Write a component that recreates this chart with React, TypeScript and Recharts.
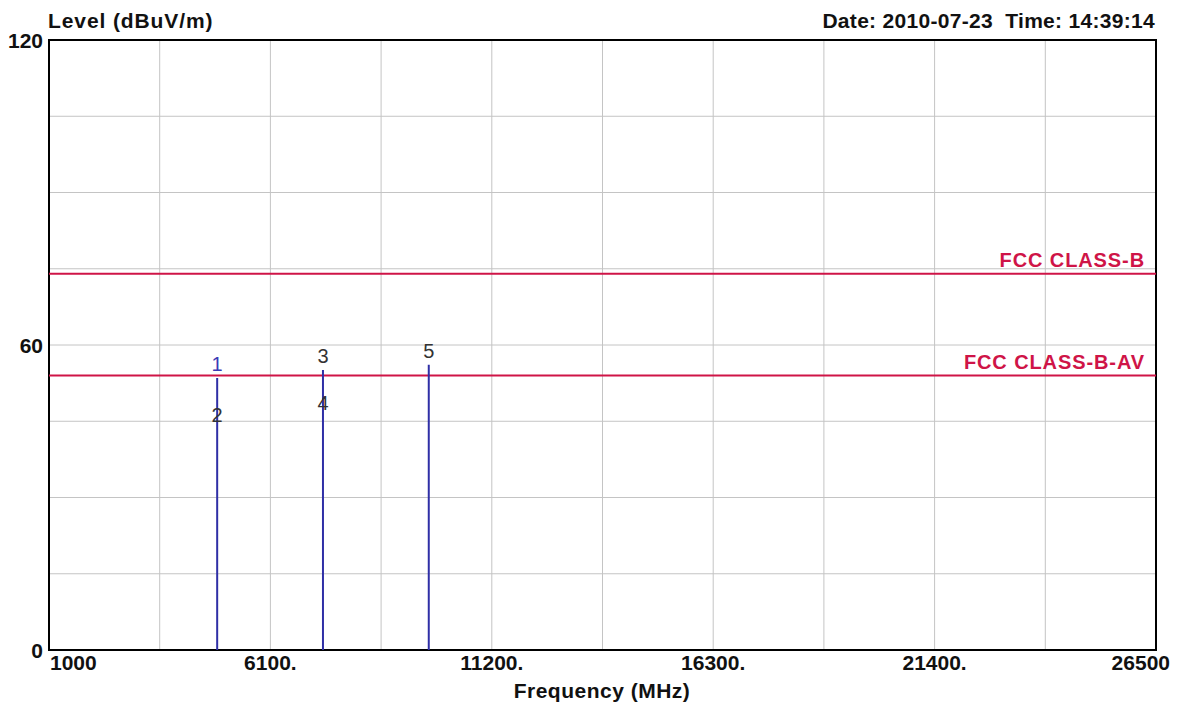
import React from 'react';
import {
  ComposedChart,
  Line,
  Scatter,
  XAxis,
  YAxis,
  CartesianGrid,
  ReferenceLine,
  ReferenceArea,
} from 'recharts';

// harmonic frequencies (MHz) and measured peak levels (dBuV/m)
const spikeFreqs = [4874, 7311, 9748];
const spikeLevels = [53.5, 55.1, 56.1];

// numbered markers: odd = peak, even = average
const markerIds = ['1', '2', '3', '4', '5'];
const markerFreqs = [4874, 4874, 7311, 7311, 9748];
const markerLevels = [53.5, 43.5, 55.1, 45.8, 56.1];

const limitNames = ['FCC CLASS-B', 'FCC CLASS-B-AV'];
const limitLevels = [74, 54];

const xTicks = [1000, 3550, 6100, 8650, 11200, 13750, 16300, 18850, 21400, 23950, 26500];
const xLabelTicks = [1000, 6100, 11200, 16300, 21400, 26500];
const yTicks = [0, 15, 30, 45, 60, 75, 90, 105, 120];
const yLabelTicks = [0, 60, 120];

const FONT = "'Liberation Sans', Arial, sans-serif";
const LIMIT_COLOR = '#cf1447';
const SPIKE_COLOR = '#2f2fa6';

const spikeSeries = spikeFreqs.map((f, i) => [
  { freq: f, level: 0 },
  { freq: f, level: spikeLevels[i] },
]);

const markers = markerIds.map((id, i) => ({
  id,
  freq: markerFreqs[i],
  level: markerLevels[i],
}));

const XTick = (props: any) => {
  const { x, y, payload } = props;
  const v = payload.value;
  if (!xLabelTicks.includes(v)) return <g />;
  const first = v === xLabelTicks[0];
  const last = v === xLabelTicks[xLabelTicks.length - 1];
  const text = first || last ? String(v) : `${v}.`;
  return (
    <text
      x={first ? x + 1 : last ? x + 14 : x}
      y={y + 20}
      textAnchor={first ? 'start' : last ? 'end' : 'middle'}
      fontFamily={FONT}
      fontWeight="bold"
      fontSize={21}
      fill="#111"
    >
      {text}
    </text>
  );
};

const YTick = (props: any) => {
  const { x, y, payload } = props;
  if (!yLabelTicks.includes(payload.value)) return <g />;
  return (
    <text
      x={x - 6}
      y={y}
      dy="0.36em"
      textAnchor="end"
      fontFamily={FONT}
      fontWeight="bold"
      fontSize={21}
      fill="#111"
    >
      {payload.value}
    </text>
  );
};

const MarkerLabel = (props: any) => {
  const { cx, cy, payload } = props;
  return (
    <text
      x={cx}
      y={cy - 7}
      textAnchor="middle"
      fontFamily={FONT}
      fontSize={20}
      fill={payload.id === '1' ? '#3b3bb5' : '#333'}
    >
      {payload.id}
    </text>
  );
};

const limitLabel = (name: string) => (props: any) => {
  const { viewBox } = props;
  return (
    <text
      x={viewBox.x + viewBox.width - 11}
      y={viewBox.y - 7}
      textAnchor="end"
      fontFamily={FONT}
      fontWeight="bold"
      fontSize={20}
      letterSpacing={0.9}
      fill={LIMIT_COLOR}
    >
      {name}
    </text>
  );
};

export default function App() {
  return (
    <div style={{ position: 'absolute', left: 0, top: 0, width: 1186, height: 707, background: '#fff' }}>
      <ComposedChart
        width={1186}
        height={707}
        margin={{ top: 40, right: 30, left: 4, bottom: 27 }}
      >
        <CartesianGrid stroke="#c4c4c4" strokeWidth={1} />
        <XAxis
          dataKey="freq"
          type="number"
          domain={[1000, 26500]}
          ticks={xTicks}
          interval={0}
          allowDataOverflow
          tickLine={false}
          tickSize={0}
          tickMargin={0}
          axisLine={false}
          height={30}
          tick={<XTick />}
        />
        <YAxis
          type="number"
          domain={[0, 120]}
          ticks={yTicks}
          interval={0}
          tickLine={false}
          tickSize={0}
          tickMargin={0}
          axisLine={false}
          width={45}
          tick={<YTick />}
        />
        {limitLevels.map((lv, i) => (
          <ReferenceLine
            key={limitNames[i]}
            y={lv}
            stroke={LIMIT_COLOR}
            strokeWidth={2}
            label={limitLabel(limitNames[i])}
          />
        ))}
        {spikeSeries.map((d, i) => (
          <Line
            key={i}
            data={d}
            dataKey="level"
            type="linear"
            stroke={SPIKE_COLOR}
            strokeWidth={2}
            dot={false}
            activeDot={false}
            isAnimationActive={false}
          />
        ))}
        <Scatter
          data={markers}
          dataKey="level"
          shape={<MarkerLabel />}
          isAnimationActive={false}
        />
        <ReferenceArea
          x1={1000}
          x2={26500}
          y1={0}
          y2={120}
          fill="none"
          fillOpacity={0}
          stroke="#000"
          strokeWidth={2}
        />
      </ComposedChart>
      <svg
        width={1186}
        height={707}
        style={{ position: 'absolute', left: 0, top: 0, pointerEvents: 'none' }}
      >
        <text x={48} y={28} fontFamily={FONT} fontWeight="bold" fontSize={21} letterSpacing={0.9} fill="#111">
          Level (dBuV/m)
        </text>
        <text x={1155} y={28} textAnchor="end" fontFamily={FONT} fontWeight="bold" fontSize={21} letterSpacing={0.3} fill="#111">
          Date: 2010-07-23{'\u00a0\u00a0'}Time: 14:39:14
        </text>
        <text x={602} y={698} textAnchor="middle" fontFamily={FONT} fontWeight="bold" fontSize={21} letterSpacing={0.5} fill="#111">
          Frequency (MHz)
        </text>
      </svg>
    </div>
  );
}
